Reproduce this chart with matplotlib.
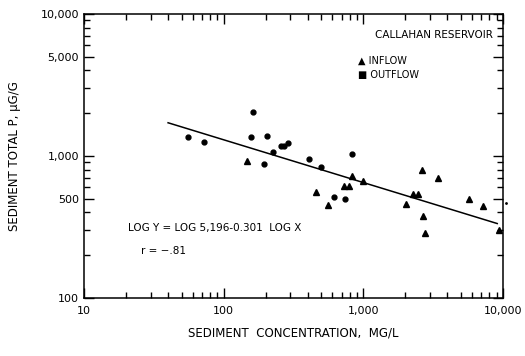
import matplotlib.pyplot as plt
from matplotlib.ticker import FixedLocator, LogLocator, NullFormatter
import numpy as np

# outflow (circles)
outflow_x = [55.5, 72.3, 161, 157, 204, 257, 269, 290, 225, 194, 408, 495, 825, 614, 736]
outflow_y = [1361, 1249, 2051, 1368, 1377, 1176, 1176, 1235, 1072, 879, 957, 833, 1028, 512, 498]

# inflow (triangles)
inflow_x = [148, 834, 1000, 727, 785, 458, 556, 2642, 3424, 2279, 2462, 2020, 2686, 2777, 5738, 7227, 9350]
inflow_y = [927, 723, 670, 618, 618, 555, 450, 797, 697, 540, 540, 459, 378, 288, 495, 444, 300]

# regression: log Y = log 5196 - 0.301 log X
a = 5196
b = -0.301
line_x = [40, 9100]

x_ticks = [10, 100, 1000, 10000]
x_labels = ["10", "100", "1,000", "10,000"]
y_ticks = [100, 500, 1000, 5000, 10000]
y_labels = ["100", "500", "1,000", "5,000", "10,000"]

fig = plt.figure(figsize=(5.25, 3.56), dpi=100)
ax = fig.add_axes([0.16, 0.163, 0.798, 0.798])

ax.set_xscale("log")
ax.set_yscale("log")
ax.set_xlim(10, 10000)
ax.set_ylim(100, 10000)

lx = np.array(line_x, dtype=float)
ax.plot(lx, a * lx ** b, color="black", lw=1.1)

ax.plot(outflow_x, outflow_y, "o", color="black", ms=3.5, ls="none")
ax.plot(inflow_x, inflow_y, "^", color="black", ms=4.2, ls="none")
ax.plot([10450], [469], ".", color="black", ms=2, clip_on=False)

ax.xaxis.set_major_locator(FixedLocator(x_ticks))
ax.set_xticklabels(x_labels)
ax.yaxis.set_major_locator(FixedLocator(y_ticks))
ax.set_yticklabels(y_labels)
ax.xaxis.set_minor_locator(LogLocator(base=10, subs=np.arange(2, 10)))
ax.yaxis.set_minor_locator(LogLocator(base=10, subs=np.arange(2, 10)))
ax.xaxis.set_minor_formatter(NullFormatter())
ax.yaxis.set_minor_formatter(NullFormatter())

ax.tick_params(which="both", direction="in", top=True, right=True, labelsize=8)
ax.tick_params(which="major", length=7, width=1)
ax.tick_params(which="minor", length=4, width=1)
ax.tick_params(axis="x", pad=6)
for s in ax.spines.values():
    s.set_linewidth(1.1)

ax.text(0.695, 0.915, "CALLAHAN RESERVOIR", transform=ax.transAxes, fontsize=7.5)
ax.text(0.655, 0.835, "\u25b2 INFLOW", transform=ax.transAxes, fontsize=7, va="center")
ax.text(0.655, 0.785, "\u25a0 OUTFLOW", transform=ax.transAxes, fontsize=7, va="center")
ax.text(0.105, 0.235, "LOG Y = LOG 5,196-0.301  LOG X", transform=ax.transAxes, fontsize=7.5)
ax.text(0.135, 0.155, "r = \u2212.81", transform=ax.transAxes, fontsize=7.5)

ax.set_xlabel("SEDIMENT  CONCENTRATION,  MG/L", fontsize=8.5, labelpad=7)
ax.set_ylabel("SEDIMENT TOTAL P, \u03bcG/G", fontsize=8.5, labelpad=14)

fig.savefig("out.png", dpi=100)
